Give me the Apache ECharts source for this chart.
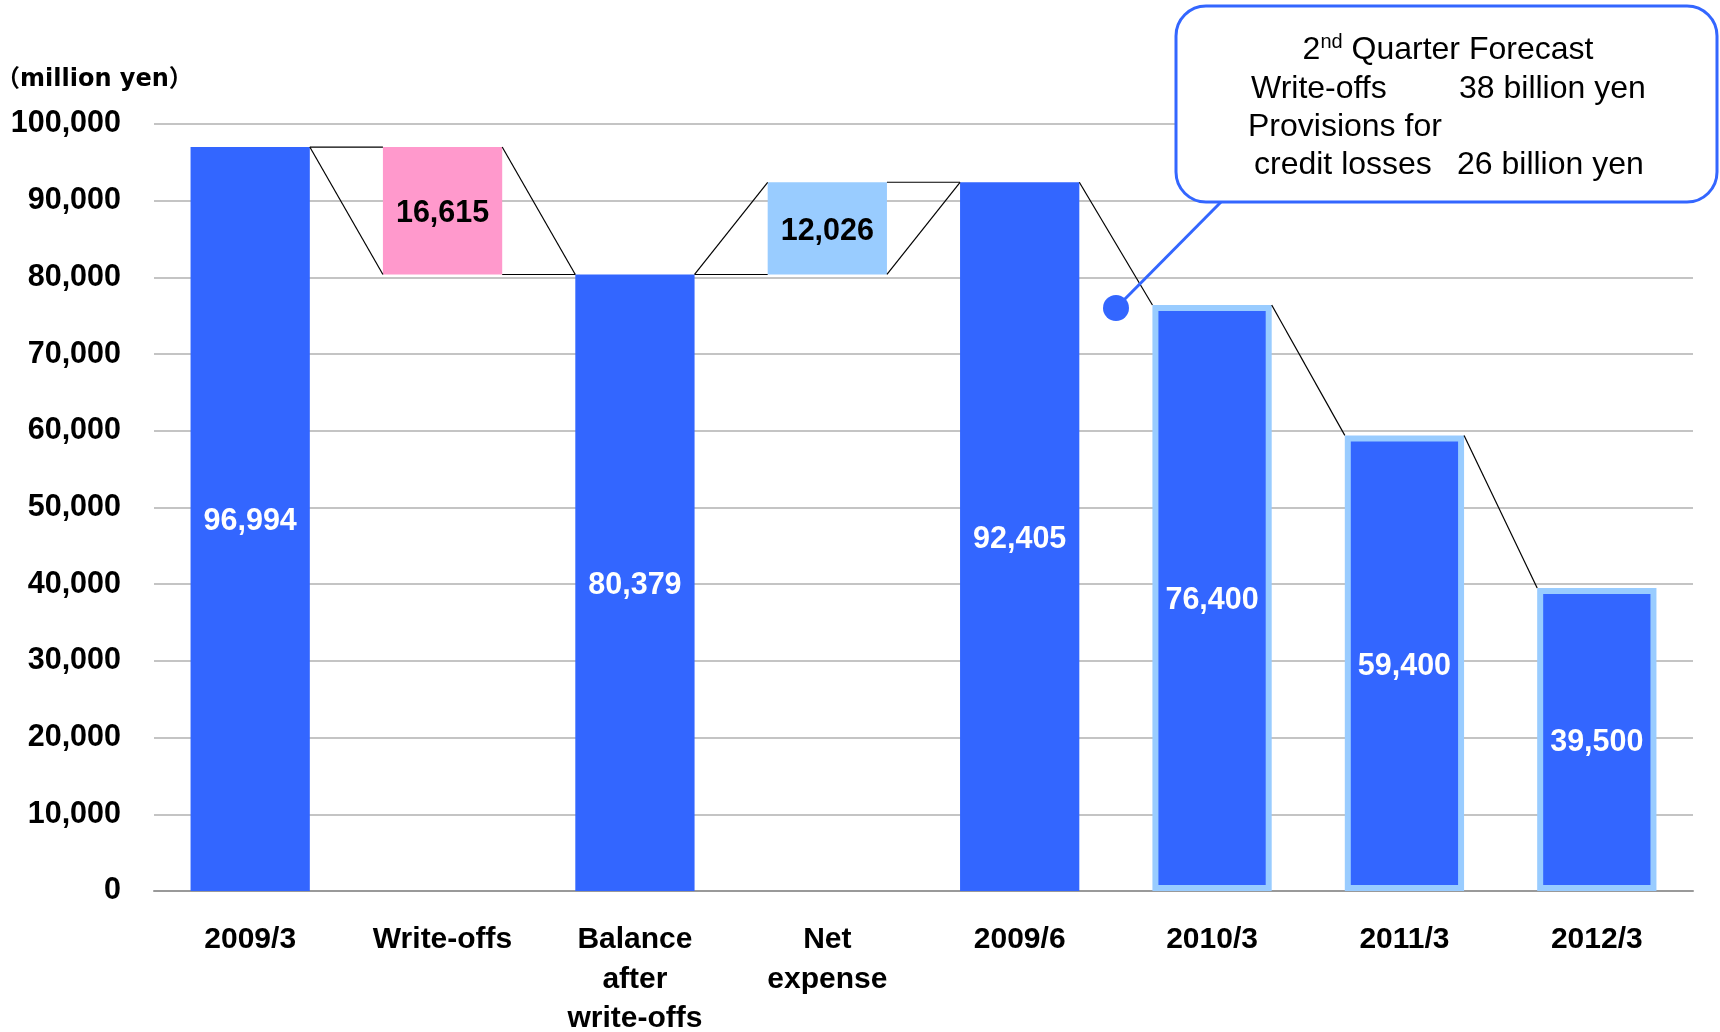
<!DOCTYPE html>
<html><head><meta charset="utf-8">
<script src="https://cdn.jsdelivr.net/npm/echarts@6/dist/echarts.min.js"></script>
<style>html,body{margin:0;padding:0;background:#fff}#c{width:1720px;height:1032px}</style>
</head><body><div id="c"></div>
<script>
var categories = ['2009/3', 'Write-offs', 'Balance\nafter\nwrite-offs', 'Net\nexpense', '2009/6', '2010/3', '2011/3', '2012/3'];
var baseValues = [0, 80379, 0, 80379, 0, 0, 0, 0];
var barValues = [96994, 16615, 80379, 12026, 92405, 76400, 59400, 39500];
var barKinds = ['actual', 'decrease', 'actual', 'increase', 'actual', 'plan', 'plan', 'plan'];
var yTicks = [0, 10000, 20000, 30000, 40000, 50000, 60000, 70000, 80000, 90000, 100000];
// connectors: [fromIndex, fromLevel, toIndex, toLevel], level = 'top' or 'bottom' of the bar
var connectors = [
  [0, 'top', 1, 'top'], [0, 'top', 1, 'bottom'],
  [1, 'top', 2, 'top'], [1, 'bottom', 2, 'top'],
  [2, 'top', 3, 'bottom'], [2, 'top', 3, 'top'],
  [3, 'top', 4, 'top'], [3, 'bottom', 4, 'top'],
  [4, 'top', 5, 'top'], [5, 'top', 6, 'top'], [6, 'top', 7, 'top']
];
var unitLabel = '（million yen）';
var calloutTitle = 'Quarter Forecast';

var BLUE = '#3366FF', PINK = '#FF99CC', LIGHT = '#99CCFF';
var BAR_RATIO = 0.62;
function level(i, l) { return l === 'top' ? baseValues[i] + barValues[i] : baseValues[i]; }
var connData = connectors.map(function (c) { return [c[0], level(c[0], c[1]), c[2], level(c[2], c[3])]; });

var chart = echarts.init(document.getElementById('c'));
var fontNum = '"Liberation Sans", Arial, sans-serif';
var boxFont = '32px "Liberation Sans", Arial';
chart.setOption({
  animation: false,
  grid: { left: 154, right: 27, top: 124, bottom: 141, outerBoundsMode: 'none', containLabel: false },
  xAxis: {
    type: 'category', data: categories,
    axisLine: { lineStyle: { color: '#999999', width: 2 } },
    axisTick: { show: false },
    axisLabel: { color: '#000', fontFamily: fontNum, fontWeight: 'bold', fontSize: 30, lineHeight: 39.5, margin: 29, interval: 0 }
  },
  yAxis: {
    type: 'value', min: 0, max: 100000, interval: 10000,
    axisLine: { show: false }, axisTick: { show: false },
    splitLine: { lineStyle: { color: '#C4C4C4', width: 2 } },
    axisLabel: { color: '#000', fontFamily: fontNum, fontWeight: 'bold', fontSize: 30.5, margin: 33, padding: [4, 0, 0, 0],
      formatter: function (v) { return yTicks.indexOf(v) >= 0 ? v.toLocaleString('en-US') : ''; } }
  },
  series: [
    { type: 'bar', stack: 'w', data: baseValues, barWidth: (BAR_RATIO * 100) + '%',
      itemStyle: { color: 'transparent' }, silent: true },
    { type: 'bar', stack: 'w', barWidth: (BAR_RATIO * 100) + '%',
      data: barValues.map(function (v, i) {
        var k = barKinds[i];
        var item = { value: v, itemStyle: { color: k === 'decrease' ? PINK : (k === 'increase' ? LIGHT : BLUE) } };
        if (k === 'plan') { item.itemStyle.borderColor = LIGHT; item.itemStyle.borderWidth = 6; }
        item.label = { color: (k === 'decrease' || k === 'increase') ? '#000' : '#fff' };
        return item;
      }),
      label: { show: true, position: 'inside', offset: [0, 3], fontFamily: fontNum, fontWeight: 'bold', fontSize: 30.5,
        formatter: function (p) { return p.value.toLocaleString('en-US'); } }
    },
    { type: 'custom', data: connData, z: 5, silent: true,
      encode: { x: [0, 2], y: [1, 3] },
      renderItem: function (params, api) {
        var p1 = api.coord([api.value(0), api.value(1)]);
        var p2 = api.coord([api.value(2), api.value(3)]);
        var half = api.size([1, 0])[0] * BAR_RATIO / 2;
        return { type: 'line', shape: { x1: p1[0] + half, y1: p1[1], x2: p2[0] - half, y2: p2[1] },
          style: { stroke: '#000', lineWidth: 1.2 } };
      }
    }
  ],
  graphic: [
    { type: 'text', x: -4, y: 80, style: { text: unitLabel, font: 'bold 24px "DejaVu Sans", "Noto Sans CJK JP"', fill: '#000', verticalAlign: 'middle' } },
    { type: 'line', shape: { x1: 1221, y1: 202, x2: 1116, y2: 308 }, style: { stroke: BLUE, lineWidth: 3 }, z: 10 },
    { type: 'circle', shape: { cx: 1116, cy: 308, r: 13 }, style: { fill: BLUE }, z: 10 },
    { type: 'rect', shape: { x: 1176, y: 6, width: 541, height: 196, r: 30 }, style: { fill: '#fff', stroke: BLUE, lineWidth: 3 }, z: 11 },
    { type: 'text', x: 1448, y: 50, z: 12, style: {
        text: '{n|2}{s|nd}{n| ' + calloutTitle + '}', align: 'center', verticalAlign: 'middle',
        rich: { n: { font: boxFont, fill: '#000' },
                s: { font: '20px "Liberation Sans", Arial', fill: '#000', verticalAlign: 'top', padding: [0, 0, 16, 0] } } } },
    { type: 'text', x: 1251, y: 89, z: 12, style: { text: 'Write-offs', font: boxFont, fill: '#000', verticalAlign: 'middle' } },
    { type: 'text', x: 1459, y: 89, z: 12, style: { text: '38 billion yen', font: boxFont, fill: '#000', verticalAlign: 'middle' } },
    { type: 'text', x: 1248, y: 127, z: 12, style: { text: 'Provisions for', font: boxFont, fill: '#000', verticalAlign: 'middle' } },
    { type: 'text', x: 1254, y: 165, z: 12, style: { text: 'credit losses', font: boxFont, fill: '#000', verticalAlign: 'middle' } },
    { type: 'text', x: 1457, y: 165, z: 12, style: { text: '26 billion yen', font: boxFont, fill: '#000', verticalAlign: 'middle' } }
  ]
});
</script></body></html>
